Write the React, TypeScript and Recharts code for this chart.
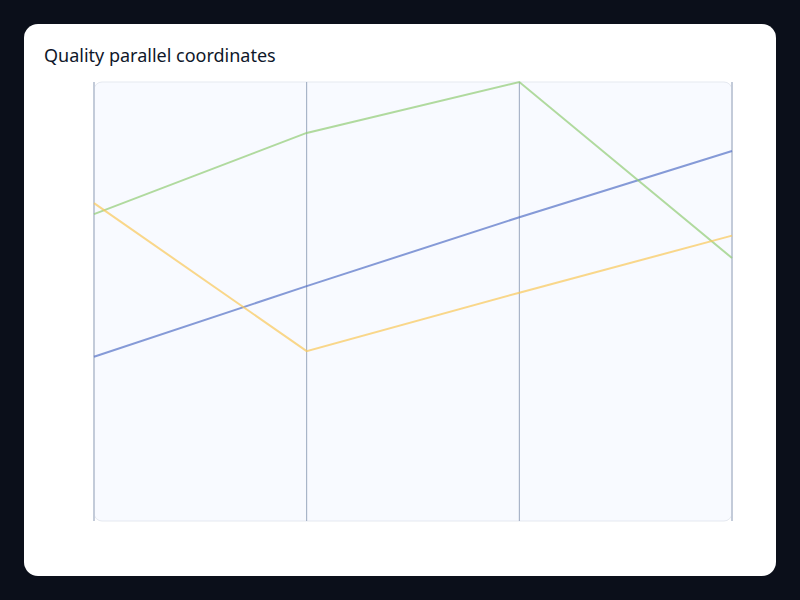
import React from 'react';
import { LineChart, Line, XAxis, YAxis, ReferenceLine, ReferenceArea } from 'recharts';

const dimensions = ['Axis A', 'Axis B', 'Axis C', 'Axis D'];
const blueValues = [37.4, 53.5, 69.2, 84.3];
const greenValues = [69.9, 88.4, 100, 59.9];
const orangeValues = [72.4, 38.7, 52.0, 65.0];

const data = dimensions.map((d, i) => ({
  dim: d,
  blue: blueValues[i],
  green: greenValues[i],
  orange: orangeValues[i],
}));

const BgShape = (p: any) => (
  <rect x={p.x} y={p.y} width={p.width} height={p.height} rx={8} ry={8} fill="#f8faff" stroke="#e5e9f0" strokeWidth={1} />
);

export default function App() {
  return (
    <div style={{ position: 'absolute', left: 0, top: 0, width: 800, height: 600, background: '#0b0f1a', overflow: 'hidden' }}>
      <div style={{ position: 'absolute', left: 24, top: 24, width: 752, height: 552, background: '#ffffff', borderRadius: 14 }} />
      <div style={{ position: 'absolute', left: 44, top: 42, fontFamily: '"Noto Sans", sans-serif', fontSize: 18, color: '#0f172a', lineHeight: '26px', whiteSpace: 'nowrap' }}>
        Quality parallel coordinates
      </div>
      <div style={{ position: 'absolute', left: 0, top: 0 }}>
        <LineChart width={800} height={600} data={data} margin={{ top: 82, right: 68, bottom: 79, left: 94 }}>
          <XAxis dataKey="dim" hide />
          <YAxis domain={[0, 100]} hide />
          <ReferenceArea x1={dimensions[0]} x2={dimensions[dimensions.length - 1]} y1={0} y2={100} shape={BgShape} ifOverflow="visible" />
          {dimensions.map((d, i) => {
            const outer = i === 0 || i === dimensions.length - 1;
            return (
              <ReferenceLine key={d} x={d} stroke={outer ? '#c3cbd9' : '#9aa8be'} strokeWidth={outer ? 2 : 1} ifOverflow="visible" />
            );
          })}
          <Line dataKey="blue" stroke="#5470c6" strokeOpacity={0.7} strokeWidth={2} dot={false} isAnimationActive={false} />
          <Line dataKey="green" stroke="#91cc75" strokeOpacity={0.7} strokeWidth={2} dot={false} isAnimationActive={false} />
          <Line dataKey="orange" stroke="#fac858" strokeOpacity={0.7} strokeWidth={2} dot={false} isAnimationActive={false} />
        </LineChart>
      </div>
    </div>
  );
}
